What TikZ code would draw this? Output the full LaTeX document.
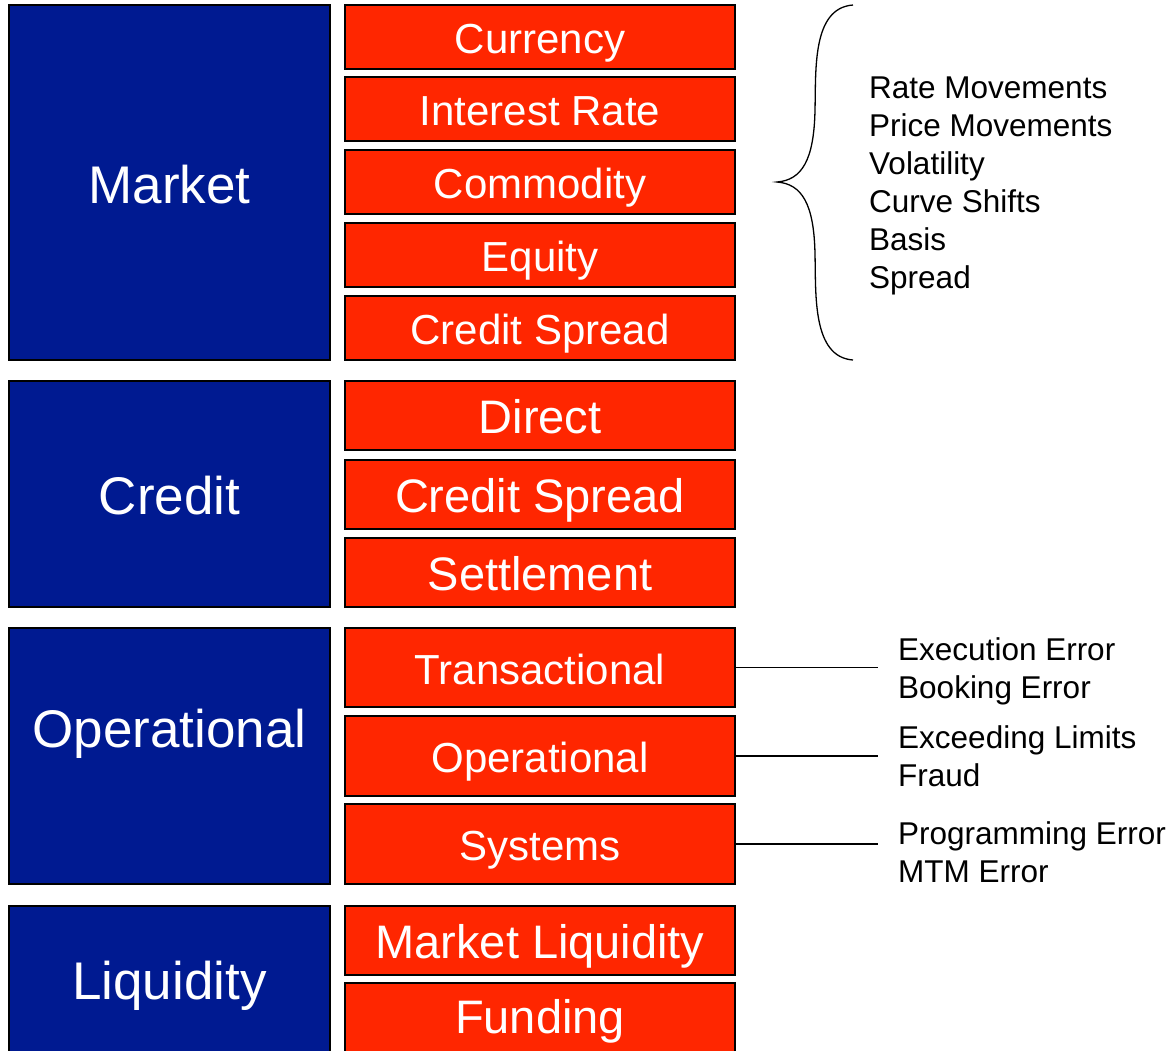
\documentclass[tikz,border=0pt]{standalone}
\usepackage{fontspec}
\setmainfont{Liberation Sans}
\definecolor{riskblue}{RGB}{0,26,145}
\definecolor{riskred}{RGB}{255,38,0}
\begin{document}
\begin{tikzpicture}[x=1pt,y=-1pt,
  catbox/.style={draw=black,line width=1.5pt,fill=riskblue,text=white,
    inner sep=0pt,text height=41pt,text depth=0pt,minimum width=321,
    font=\fontsize{53}{60}\selectfont},
  subbox/.style={draw=black,line width=1.5pt,fill=riskred,text=white,
    inner sep=0pt,text height=33pt,text depth=0pt,minimum width=390,
    font=\fontsize{42}{50}\selectfont},
  lightbox/.style={subbox,text height=36.6pt,font=\fontsize{47}{55}\selectfont},
  notes/.style={align=left,inner sep=0pt,anchor=west,
    font=\fontsize{31.5}{38}\selectfont},
  link/.style={draw=black,line width=1.3pt}]
\useasboundingbox (0,0) rectangle (1172,1050);
\clip (0,0) rectangle (1172,1050);
\fill[white] (0,0) rectangle (1172,1050);
% Market
\node[catbox,minimum height=355] (market) at (169.5,182.5) {Market};
\node[subbox,minimum height=64] (currency) at (540,37) {Currency};
\node[subbox,minimum height=64] (interest) at (540,109) {Interest Rate};
\node[subbox,minimum height=64] (commodity) at (540,182) {Commodity};
\node[subbox,minimum height=64] (equity) at (540,255) {Equity};
\node[subbox,minimum height=64] (mspread) at (540,328) {Credit Spread};
% Credit
\node[catbox,minimum height=226] (credit) at (169.5,494) {Credit};
\node[lightbox,minimum height=69] (direct) at (540,415.5) {Direct};
\node[lightbox,minimum height=69] (cspread) at (540,494.5) {Credit Spread};
\node[lightbox,minimum height=69] (settle) at (540,572.5) {Settlement};
% Operational
\node[catbox,minimum height=256,text height=38pt,text depth=56pt] (oper) at (169.5,756) {Operational};
\node[subbox,minimum height=79] (trans) at (540,667.5) {Transactional};
\node[subbox,minimum height=80] (operx) at (540,756) {Operational};
\node[subbox,minimum height=80] (systems) at (540,844) {Systems};
% Liquidity
\node[catbox,minimum height=160,text height=38pt,text depth=12pt] (liq) at (169.5,986) {Liquidity};
\node[lightbox,minimum height=69] (mliq) at (540,940.5) {Market Liquidity};
\node[lightbox,minimum height=80,text height=30pt,text depth=10pt] (fund) at (540,1023) {Funding};
% Market notes and brace
\node[notes] (mnotes) at (869,185.5) {Rate Movements\\Price Movements\\Volatility\\Curve Shifts\\Basis\\Spread};
\coordinate (btop) at (853,5);
\coordinate (btip) at (777,182);
\coordinate (bbot) at (853,360);
\draw[line width=1.3pt] (btop) .. controls (812,8) and (816,70) .. (815,110)
  .. controls (814,160) and (802,180) .. (btip)
  .. controls (802,184) and (814,204) .. (815,254)
  .. controls (816,294) and (812,357) .. (bbot);
% Operational notes
\node[notes] (tnotes) at (898,671) {Execution Error\\Booking Error};
\node[notes] (onotes) at (898,756) {Exceeding Limits\\Fraud};
\node[notes] (snotes) at (898,852) {Programming Error\\MTM Error};
\coordinate (tend) at (878,667.5);
\coordinate (oend) at (878,756);
\coordinate (send) at (878,844);
\draw[link] (trans.east) -- (tend);
\draw[link] (operx.east) -- (oend);
\draw[link] (systems.east) -- (send);
\end{tikzpicture}
\end{document}
